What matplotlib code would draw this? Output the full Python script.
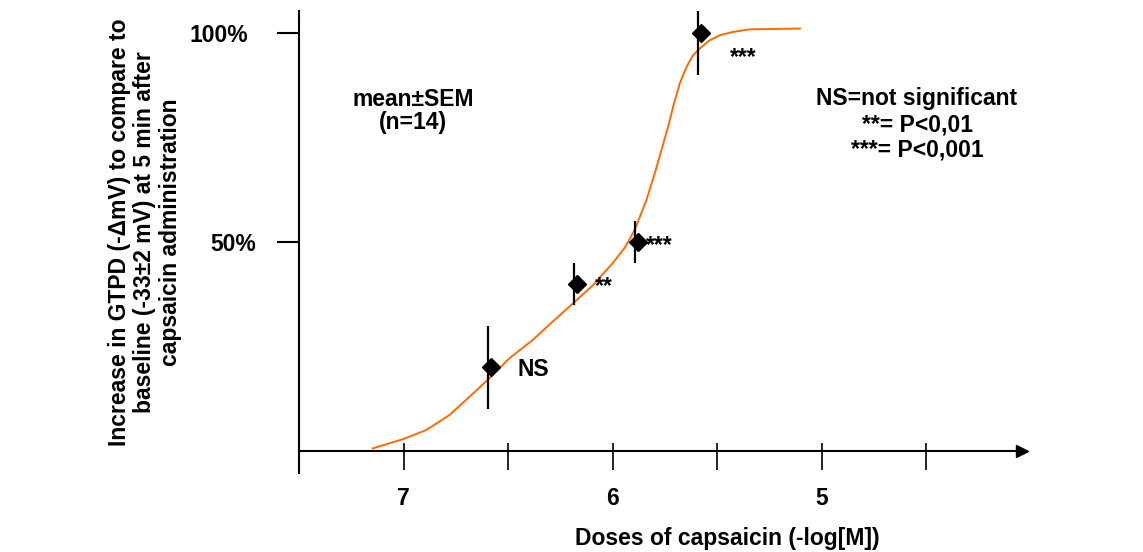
import matplotlib
matplotlib.use('Agg')
import matplotlib.pyplot as plt
from matplotlib.transforms import ScaledTranslation

plt.rcParams['font.family'] = ['Liberation Sans', 'DejaVu Sans']
plt.rcParams['font.weight'] = 'bold'
plt.rcParams['font.size'] = 16.5

# measured points (-log[M], % increase) and SEM
dose = [6.58, 6.17, 5.88, 5.58]
resp = [20, 40, 50, 100]
sem = [10, 5, 5, 10]
sig = ['NS', '**', '***', '***']

# fitted curve
fit_x = [7.147, 7.003, 6.891, 6.780, 6.684, 6.589, 6.493, 6.381, 6.290, 6.190,
         6.094, 5.999, 5.940, 5.895, 5.839, 5.799, 5.767, 5.735, 5.711, 5.679,
         5.647, 5.616, 5.584, 5.536, 5.488, 5.424, 5.344, 5.230, 5.105]
fit_y = [0.6, 2.8, 5.0, 8.6, 13.0, 17.4, 22.2, 26.6, 30.8, 35.3,
         39.7, 45.0, 48.8, 52.9, 60.0, 66.4, 72.0, 77.6, 82.4, 88.0,
         91.9, 94.7, 96.3, 98.3, 99.5, 100.3, 100.9, 101.0, 101.1]

xticks = [7, 6.5, 6, 5.5, 5, 4.5]
xlabels = ['7', '', '6', '', '5', '']

fig = plt.figure(figsize=(11.43, 5.52), dpi=100)
ax = fig.add_axes([0.2616, 0.1431, 0.6325, 0.837])

ax.plot(fit_x, fit_y, color='#ff6a00', lw=1.4, zorder=2, solid_joinstyle='round')

shift = ax.transData + ScaledTranslation(-3 / 100, 0, fig.dpi_scale_trans)
ax.errorbar(dose, resp, yerr=sem, fmt='none', ecolor='black', elinewidth=1.6,
            capsize=0, transform=shift, zorder=3)
ax.plot(dose, resp, 'D', color='black', ms=9, zorder=4)

# significance labels next to the points
offs = [(30, -1.5, 'center', 'center'), (13, -7, 'left', 'baseline'),
        (6, -7.4, 'left', 'baseline'), (21, -22.3, 'left', 'baseline')]
for x, y, s, (dx, dy, ha, va) in zip(dose, resp, sig, offs):
    ax.annotate(s, (x, y), xytext=(dx, dy), textcoords='offset points',
                ha=ha, va=va)

ax.set_xlim(7.5, 4.043)
ax.set_ylim(-5.3, 105.3)

for s in ['top', 'right']:
    ax.spines[s].set_visible(False)
ax.spines['left'].set_linewidth(1.5)
ax.spines['bottom'].set_position(('data', 0))
ax.spines['bottom'].set_linewidth(1.5)
ax.plot(1, 0, '>k', ms=9, transform=ax.get_yaxis_transform(), clip_on=False)

ax.set_xticks(xticks, xlabels)
ax.set_xticks(xticks, minor=True)
ax.xaxis.remove_overlapping_locs = False
ax.tick_params(axis='x', which='major', direction='out', length=13.7, width=1.2, pad=12)
ax.tick_params(axis='x', which='minor', direction='in', length=5.8, width=1.2)

ax.set_yticks([50, 100], ['50%', '100%'])
ax.tick_params(axis='y', direction='out', length=15.8, width=1.5, pad=15)
lab100 = ax.get_yticklabels()[1]
lab100.set_transform(lab100.get_transform() + ScaledTranslation(-8 / 100, 0, fig.dpi_scale_trans))

fig.text(727 / 1143, 1 - 545 / 552, 'Doses of capsaicin (-log[M])', ha='center', va='baseline')

fig.text(145 / 1143, 1 - 232 / 552,
         'Increase in GTPD (-\u0394mV) to compare to\nbaseline (-33\u00b12 mV) at 5 min after\ncapsaicin administration',
         rotation=90, ha='center', va='center', multialignment='center', linespacing=1.15)

fig.text(413 / 1143, 1 - 111 / 552, 'mean\u00b1SEM\n(n=14)', ha='center', va='center',
         multialignment='center', linespacing=1.05)
fig.text(917 / 1143, 1 - 105 / 552, 'NS=not significant', ha='center', va='baseline')
fig.text(917 / 1143, 1 - 131 / 552, '**= P<0,01', ha='center', va='baseline')
fig.text(917 / 1143, 1 - 157 / 552, '***= P<0,001', ha='center', va='baseline')

fig.savefig('out.png', dpi=100)
